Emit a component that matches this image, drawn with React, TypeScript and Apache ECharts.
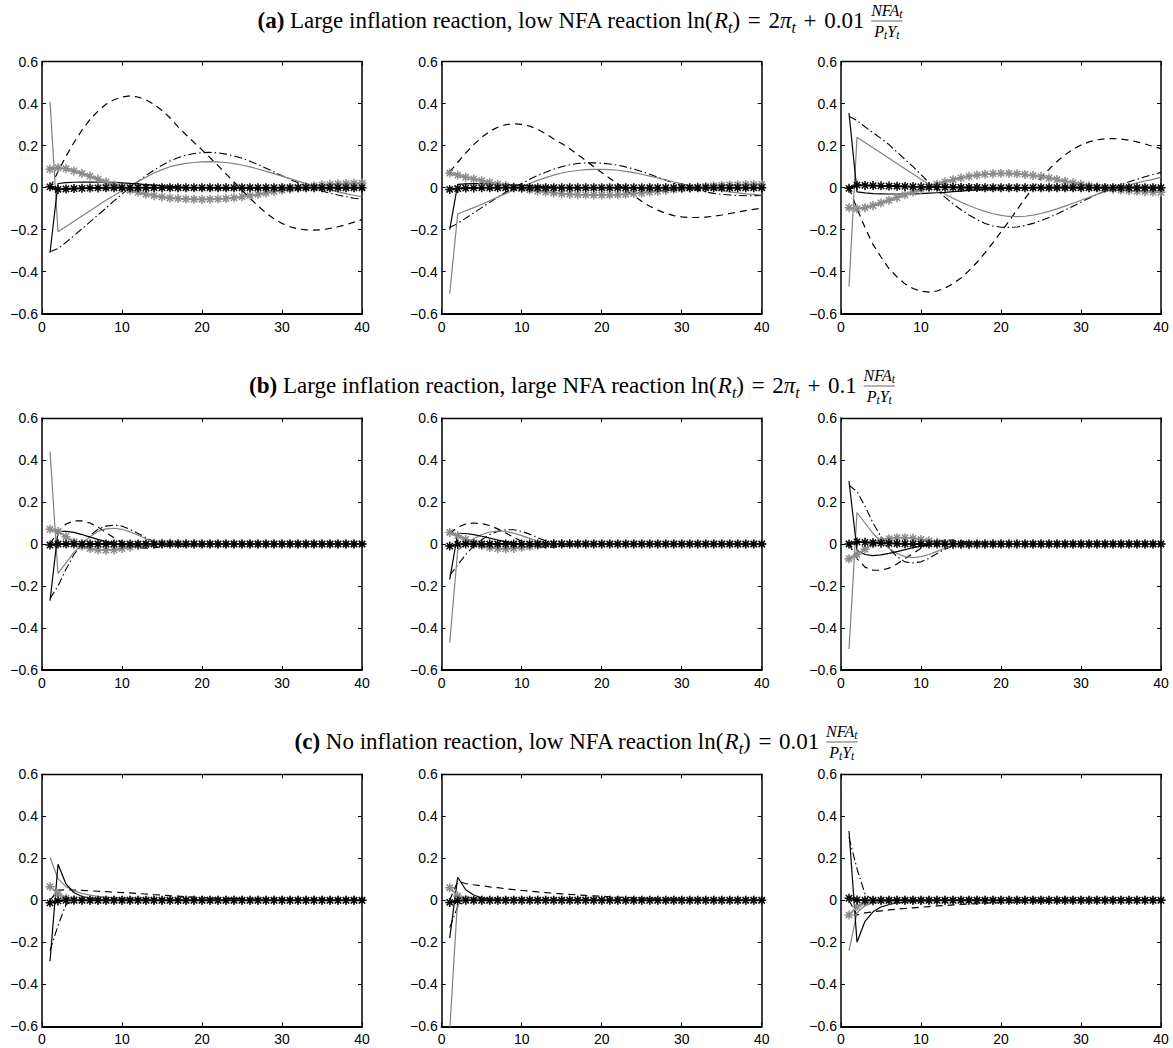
import React, { useEffect, useRef } from "react";
import * as echarts from "echarts";

// ---------------- axes ----------------
const xTicks = [0, 10, 20, 30, 40];
const yTicks = [-0.6, -0.4, -0.2, 0, 0.2, 0.4, 0.6];

// ---------------- panel (a) ----------------
const a1_bs = [-0.31,0.02,0.024,0.026,0.027,0.027,0.027,0.026,0.025,0.023,0.021,0.018,0.015,0.012,0.009,0.006,0.004,0.002,0.001,0,-0.001,-0.001,-0.002,-0.002,-0.002,-0.002,-0.002,-0.001,-0.001,-0.001,0,0,0,0,0,0,0,0,0,0];
const a1_gs = [0.41,-0.21,-0.185,-0.16,-0.135,-0.11,-0.085,-0.06,-0.037,-0.015,0.008,0.03,0.05,0.07,0.086,0.1,0.109,0.116,0.12,0.123,0.124,0.123,0.12,0.115,0.108,0.099,0.089,0.078,0.067,0.055,0.043,0.031,0.02,0.009,-0.001,-0.011,-0.02,-0.028,-0.036,-0.043];
const a1_dd = [-0.305,-0.29,-0.26,-0.228,-0.196,-0.163,-0.13,-0.097,-0.063,-0.03,0.0,0.03,0.058,0.084,0.107,0.127,0.143,0.155,0.163,0.167,0.168,0.166,0.16,0.151,0.14,0.126,0.11,0.093,0.075,0.057,0.04,0.024,0.009,-0.004,-0.016,-0.026,-0.035,-0.043,-0.05,-0.055];
const a1_da = [0.0,0.076,0.15,0.215,0.275,0.325,0.365,0.397,0.419,0.432,0.437,0.432,0.418,0.397,0.368,0.333,0.29,0.252,0.216,0.18,0.143,0.105,0.066,0.027,-0.012,-0.05,-0.087,-0.12,-0.148,-0.17,-0.186,-0.196,-0.201,-0.202,-0.2,-0.194,-0.186,-0.176,-0.164,-0.152];
const a1_gst = [0.088,0.095,0.09,0.08,0.068,0.055,0.041,0.027,0.013,0.0,-0.012,-0.022,-0.031,-0.038,-0.044,-0.049,-0.052,-0.054,-0.055,-0.056,-0.055,-0.054,-0.052,-0.048,-0.043,-0.038,-0.032,-0.025,-0.018,-0.012,-0.006,0.0,0.005,0.009,0.013,0.016,0.018,0.02,0.021,0.022];
const a1_bst = [0.004,-0.008,-0.006,-0.004,-0.003,-0.002,-0.001,0,0,0,0,0,0,0,0,0,0,0,0,0,0,0,0,0,0,0,0,0,0,0,0,0,0,0,0,0,0,0,0,0];

const a2_bs = [-0.2,0.016,0.018,0.019,0.019,0.018,0.017,0.015,0.013,0.011,0.009,0.007,0.005,0.003,0.002,0.001,0,0,0,0,0,0,0,0,0,0,0,0,0,0,0,0,0,0,0,0,0,0,0,0];
const a2_gs = [-0.505,-0.125,-0.11,-0.095,-0.079,-0.062,-0.045,-0.028,-0.011,0.005,0.02,0.035,0.048,0.06,0.07,0.077,0.082,0.086,0.087,0.087,0.086,0.083,0.078,0.072,0.064,0.055,0.046,0.036,0.027,0.018,0.01,0.004,-0.002,-0.008,-0.014,-0.02,-0.025,-0.029,-0.032,-0.035];
const a2_dd = [-0.19,-0.17,-0.145,-0.12,-0.095,-0.07,-0.045,-0.022,0.0,0.02,0.04,0.058,0.074,0.088,0.1,0.109,0.115,0.118,0.119,0.117,0.113,0.107,0.099,0.089,0.077,0.064,0.05,0.036,0.022,0.01,-0.002,-0.012,-0.02,-0.027,-0.032,-0.035,-0.037,-0.038,-0.038,-0.037];
const a2_da = [0.075,0.12,0.165,0.205,0.24,0.268,0.288,0.3,0.304,0.302,0.293,0.278,0.257,0.232,0.21,0.185,0.158,0.13,0.1,0.072,0.045,0.018,-0.01,-0.038,-0.065,-0.088,-0.107,-0.122,-0.133,-0.139,-0.142,-0.142,-0.14,-0.136,-0.13,-0.123,-0.116,-0.109,-0.103,-0.098];
const a2_gst = [0.07,0.06,0.05,0.042,0.033,0.025,0.017,0.01,0.003,-0.004,-0.01,-0.016,-0.021,-0.025,-0.029,-0.031,-0.033,-0.034,-0.035,-0.035,-0.034,-0.033,-0.031,-0.028,-0.025,-0.021,-0.017,-0.013,-0.009,-0.005,-0.001,0.003,0.006,0.009,0.011,0.013,0.014,0.015,0.016,0.016];
const a2_bst = [-0.008,-0.004,-0.002,-0.001,0,0,0,0,0,0,0,0,0,0,0,0,0,0,0,0,0,0,0,0,0,0,0,0,0,0,0,0,0,0,0,0,0,0,0,0];

const a3_bs = [0.355,-0.02,-0.025,-0.028,-0.029,-0.03,-0.03,-0.03,-0.029,-0.028,-0.026,-0.024,-0.022,-0.019,-0.016,-0.013,-0.01,-0.008,-0.006,-0.004,-0.002,-0.001,0,0.001,0.002,0.002,0.003,0.003,0.003,0.003,0.003,0.003,0.003,0.003,0.003,0.003,0.003,0.003,0.003,0.003];
const a3_gs = [-0.471,0.24,0.215,0.19,0.165,0.14,0.115,0.09,0.065,0.04,0.015,-0.008,-0.03,-0.05,-0.068,-0.085,-0.1,-0.113,-0.124,-0.132,-0.137,-0.138,-0.136,-0.131,-0.123,-0.113,-0.101,-0.088,-0.074,-0.06,-0.046,-0.032,-0.019,-0.007,0.004,0.014,0.023,0.032,0.04,0.05];
const a3_dd = [0.34,0.32,0.29,0.262,0.235,0.205,0.17,0.135,0.1,0.062,0.025,-0.01,-0.045,-0.077,-0.105,-0.13,-0.152,-0.17,-0.182,-0.188,-0.189,-0.187,-0.18,-0.17,-0.157,-0.142,-0.125,-0.107,-0.088,-0.069,-0.05,-0.032,-0.015,0.0,0.015,0.028,0.04,0.052,0.063,0.073];
const a3_da = [0.0,-0.1,-0.19,-0.27,-0.33,-0.385,-0.425,-0.458,-0.48,-0.493,-0.497,-0.492,-0.478,-0.457,-0.43,-0.395,-0.355,-0.31,-0.262,-0.21,-0.16,-0.105,-0.052,0.0,0.045,0.087,0.125,0.157,0.183,0.203,0.218,0.228,0.233,0.234,0.232,0.226,0.218,0.208,0.197,0.186];
const a3_gst = [-0.095,-0.1,-0.095,-0.085,-0.073,-0.06,-0.047,-0.034,-0.021,-0.008,0.005,0.017,0.028,0.038,0.047,0.054,0.06,0.064,0.067,0.068,0.068,0.066,0.063,0.058,0.053,0.046,0.039,0.031,0.023,0.016,0.009,0.003,-0.002,-0.007,-0.011,-0.014,-0.017,-0.019,-0.021,-0.022];
const a3_bst = [-0.003,0.012,0.011,0.01,0.009,0.008,0.007,0.006,0.005,0.004,0.003,0.003,0.002,0.002,0.001,0.001,0.001,0,0,0,0,0,0,0,0,0,0,0,0,0,0,0,0,0,0,0,0,0,0,0];

// ---------------- panel (b) ----------------
const b1_bs = [-0.27,0.06,0.06,0.055,0.045,0.033,0.022,0.012,0.004,-0.002,-0.005,-0.006,-0.005,-0.003,-0.001,0,0,0,0,0,0,0,0,0,0,0,0,0,0,0,0,0,0,0,0,0,0,0,0,0];
const b1_gs = [0.44,-0.14,-0.09,-0.04,0.0,0.035,0.06,0.072,0.075,0.07,0.058,0.042,0.025,0.01,0.0,-0.006,-0.008,-0.008,-0.006,-0.004,-0.002,-0.001,0,0,0,0,0,0,0,0,0,0,0,0,0,0,0,0,0,0];
const b1_dd = [-0.26,-0.2,-0.12,-0.05,0.0,0.04,0.07,0.085,0.09,0.085,0.07,0.05,0.03,0.012,0.0,-0.008,-0.01,-0.009,-0.006,-0.003,-0.001,0,0,0,0,0,0,0,0,0,0,0,0,0,0,0,0,0,0,0];
const b1_da = [0.0,0.06,0.095,0.11,0.11,0.1,0.08,0.055,0.03,0.008,-0.008,-0.018,-0.02,-0.018,-0.013,-0.008,-0.004,-0.001,0,0,0,0,0,0,0,0,0,0,0,0,0,0,0,0,0,0,0,0,0,0];
const b1_gst = [0.07,0.06,0.035,0.01,-0.01,-0.022,-0.028,-0.03,-0.028,-0.022,-0.015,-0.008,-0.002,0.002,0.004,0.004,0.003,0.002,0.001,0,0,0,0,0,0,0,0,0,0,0,0,0,0,0,0,0,0,0,0,0];
const b1_bst = [-0.005,0,0,0,0,0,0,0,0,0,0,0,0,0,0,0,0,0,0,0,0,0,0,0,0,0,0,0,0,0,0,0,0,0,0,0,0,0,0,0];

const b2_bs = [-0.17,0.05,0.05,0.045,0.037,0.028,0.019,0.011,0.005,0.0,-0.003,-0.004,-0.004,-0.003,-0.002,-0.001,0,0,0,0,0,0,0,0,0,0,0,0,0,0,0,0,0,0,0,0,0,0,0,0];
const b2_gs = [-0.47,-0.03,0.0,0.025,0.045,0.057,0.062,0.06,0.052,0.04,0.027,0.014,0.004,-0.003,-0.006,-0.006,-0.005,-0.003,-0.002,-0.001,0,0,0,0,0,0,0,0,0,0,0,0,0,0,0,0,0,0,0,0];
const b2_dd = [-0.15,-0.1,-0.05,-0.01,0.02,0.045,0.06,0.068,0.068,0.06,0.047,0.03,0.015,0.003,-0.004,-0.007,-0.007,-0.005,-0.003,-0.001,0,0,0,0,0,0,0,0,0,0,0,0,0,0,0,0,0,0,0,0];
const b2_da = [0.05,0.08,0.095,0.1,0.097,0.088,0.072,0.052,0.032,0.013,-0.002,-0.012,-0.016,-0.015,-0.011,-0.007,-0.004,-0.002,-0.001,0,0,0,0,0,0,0,0,0,0,0,0,0,0,0,0,0,0,0,0,0];
const b2_gst = [0.055,0.04,0.022,0.005,-0.008,-0.017,-0.022,-0.023,-0.021,-0.016,-0.011,-0.006,-0.002,0.001,0.002,0.002,0.001,0,0,0,0,0,0,0,0,0,0,0,0,0,0,0,0,0,0,0,0,0,0,0];
const b2_bst = [-0.01,-0.002,0,0,0,0,0,0,0,0,0,0,0,0,0,0,0,0,0,0,0,0,0,0,0,0,0,0,0,0,0,0,0,0,0,0,0,0,0,0];

const b3_bs = [0.3,-0.03,-0.05,-0.055,-0.052,-0.045,-0.036,-0.027,-0.018,-0.01,-0.004,0.0,0.002,0.003,0.003,0.002,0.001,0,0,0,0,0,0,0,0,0,0,0,0,0,0,0,0,0,0,0,0,0,0,0];
const b3_gs = [-0.5,0.15,0.1,0.05,0.01,-0.02,-0.045,-0.06,-0.065,-0.06,-0.05,-0.035,-0.02,-0.008,0.0,0.005,0.006,0.005,0.003,0.001,0,0,0,0,0,0,0,0,0,0,0,0,0,0,0,0,0,0,0,0];
const b3_dd = [0.28,0.25,0.18,0.1,0.035,-0.02,-0.06,-0.085,-0.09,-0.085,-0.068,-0.045,-0.025,-0.008,0.004,0.009,0.009,0.007,0.004,0.002,0,0,0,0,0,0,0,0,0,0,0,0,0,0,0,0,0,0,0,0];
const b3_da = [0.0,-0.07,-0.11,-0.125,-0.125,-0.115,-0.095,-0.07,-0.045,-0.02,0.0,0.012,0.018,0.018,0.014,0.009,0.005,0.002,0,0,0,0,0,0,0,0,0,0,0,0,0,0,0,0,0,0,0,0,0,0];
const b3_gst = [-0.07,-0.05,-0.025,0.0,0.015,0.025,0.03,0.03,0.027,0.022,0.015,0.008,0.002,-0.002,-0.003,-0.003,-0.002,-0.001,0,0,0,0,0,0,0,0,0,0,0,0,0,0,0,0,0,0,0,0,0,0];
const b3_bst = [0.0,0.01,0.008,0.006,0.004,0.003,0.002,0.001,0,0,0,0,0,0,0,0,0,0,0,0,0,0,0,0,0,0,0,0,0,0,0,0,0,0,0,0,0,0,0,0];

// ---------------- panel (c) ----------------
const c1_bs = [-0.29,0.172,0.078,0.036,0.018,0.01,0.005,0.003,0.002,0.001,0,0,0,0,0,0,0,0,0,0,0,0,0,0,0,0,0,0,0,0,0,0,0,0,0,0,0,0,0,0];
const c1_gs = [0.205,0.103,0.065,0.045,0.033,0.025,0.019,0.015,0.012,0.01,0.008,0.007,0.006,0.005,0.004,0.004,0.003,0.003,0.002,0.002,0.002,0.001,0.001,0.001,0.001,0.001,0,0,0,0,0,0,0,0,0,0,0,0,0,0];
const c1_dd = [-0.24,-0.12,-0.02,0.0,0.002,0.001,0,0,0,0,0,0,0,0,0,0,0,0,0,0,0,0,0,0,0,0,0,0,0,0,0,0,0,0,0,0,0,0,0,0];
const c1_da = [0.0,0.048,0.05,0.049,0.047,0.045,0.043,0.041,0.039,0.037,0.035,0.032,0.03,0.027,0.025,0.022,0.02,0.017,0.015,0.013,0.011,0.01,0.009,0.008,0.007,0.006,0.005,0.004,0.004,0.003,0.003,0.002,0.002,0.002,0.001,0.001,0.001,0.001,0.001,0.001];
const c1_gst = [0.065,0.03,0.01,0.003,0.001,0,0,0,0,0,0,0,0,0,0,0,0,0,0,0,0,0,0,0,0,0,0,0,0,0,0,0,0,0,0,0,0,0,0,0];
const c1_bst = [-0.012,-0.003,0,0,0,0,0,0,0,0,0,0,0,0,0,0,0,0,0,0,0,0,0,0,0,0,0,0,0,0,0,0,0,0,0,0,0,0,0,0];

const c2_bs = [-0.18,0.11,0.05,0.025,0.012,0.006,0.003,0.001,0,0,0,0,0,0,0,0,0,0,0,0,0,0,0,0,0,0,0,0,0,0,0,0,0,0,0,0,0,0,0,0];
const c2_gs = [-0.62,0.01,0.015,0.012,0.009,0.007,0.005,0.004,0.003,0.002,0.002,0.001,0.001,0,0,0,0,0,0,0,0,0,0,0,0,0,0,0,0,0,0,0,0,0,0,0,0,0,0,0];
const c2_dd = [-0.13,-0.03,0.0,0,0,0,0,0,0,0,0,0,0,0,0,0,0,0,0,0,0,0,0,0,0,0,0,0,0,0,0,0,0,0,0,0,0,0,0,0];
const c2_da = [0.0,0.09,0.08,0.074,0.069,0.064,0.06,0.055,0.051,0.047,0.044,0.04,0.037,0.034,0.031,0.028,0.026,0.023,0.021,0.019,0.017,0.015,0.014,0.012,0.011,0.01,0.009,0.008,0.007,0.006,0.005,0.005,0.004,0.004,0.003,0.003,0.002,0.002,0.002,0.002];
const c2_gst = [0.06,0.02,0.005,0.001,0,0,0,0,0,0,0,0,0,0,0,0,0,0,0,0,0,0,0,0,0,0,0,0,0,0,0,0,0,0,0,0,0,0,0,0];
const c2_bst = [-0.01,-0.002,0,0,0,0,0,0,0,0,0,0,0,0,0,0,0,0,0,0,0,0,0,0,0,0,0,0,0,0,0,0,0,0,0,0,0,0,0,0];

const c3_bs = [0.33,-0.2,-0.1,-0.055,-0.032,-0.02,-0.013,-0.008,-0.005,-0.003,-0.002,-0.001,0,0,0,0,0,0,0,0,0,0,0,0,0,0,0,0,0,0,0,0,0,0,0,0,0,0,0,0];
const c3_gs = [-0.24,-0.06,-0.025,-0.012,-0.006,-0.003,-0.001,0,0,0,0,0,0,0,0,0,0,0,0,0,0,0,0,0,0,0,0,0,0,0,0,0,0,0,0,0,0,0,0,0];
const c3_dd = [0.3,0.15,0.03,0.0,0,0,0,0,0,0,0,0,0,0,0,0,0,0,0,0,0,0,0,0,0,0,0,0,0,0,0,0,0,0,0,0,0,0,0,0];
const c3_da = [0.0,-0.07,-0.06,-0.055,-0.05,-0.046,-0.042,-0.039,-0.036,-0.033,-0.03,-0.027,-0.025,-0.022,-0.02,-0.018,-0.016,-0.014,-0.012,-0.011,-0.01,-0.009,-0.008,-0.007,-0.006,-0.005,-0.004,-0.004,-0.003,-0.003,-0.002,-0.002,-0.002,-0.001,-0.001,-0.001,-0.001,-0.001,0,0];
const c3_gst = [-0.07,-0.03,-0.01,-0.003,0,0,0,0,0,0,0,0,0,0,0,0,0,0,0,0,0,0,0,0,0,0,0,0,0,0,0,0,0,0,0,0,0,0,0,0];
const c3_bst = [0.01,0.002,0,0,0,0,0,0,0,0,0,0,0,0,0,0,0,0,0,0,0,0,0,0,0,0,0,0,0,0,0,0,0,0,0,0,0,0,0,0];

const panels = [
  { dashed: a1_da, dashDot: a1_dd, gray: a1_gs, black: a1_bs, grayStar: a1_gst, blackStar: a1_bst },
  { dashed: a2_da, dashDot: a2_dd, gray: a2_gs, black: a2_bs, grayStar: a2_gst, blackStar: a2_bst },
  { dashed: a3_da, dashDot: a3_dd, gray: a3_gs, black: a3_bs, grayStar: a3_gst, blackStar: a3_bst },
  { dashed: b1_da, dashDot: b1_dd, gray: b1_gs, black: b1_bs, grayStar: b1_gst, blackStar: b1_bst },
  { dashed: b2_da, dashDot: b2_dd, gray: b2_gs, black: b2_bs, grayStar: b2_gst, blackStar: b2_bst },
  { dashed: b3_da, dashDot: b3_dd, gray: b3_gs, black: b3_bs, grayStar: b3_gst, blackStar: b3_bst },
  { dashed: c1_da, dashDot: c1_dd, gray: c1_gs, black: c1_bs, grayStar: c1_gst, blackStar: c1_bst },
  { dashed: c2_da, dashDot: c2_dd, gray: c2_gs, black: c2_bs, grayStar: c2_gst, blackStar: c2_bst },
  { dashed: c3_da, dashDot: c3_dd, gray: c3_gs, black: c3_bs, grayStar: c3_gst, blackStar: c3_bst },
];

// Title pieces: [text, style]
type Piece = [string, string];
const SP = "\u2004"; // math-like spacing around relations
const titleA: Piece[] = [["(a)", "b"], [" Large inflation reaction, low NFA reaction ln(", "n"], ["R", "i"], ["t", "si"], [")", "n"], [SP + "=" + SP + "2", "n"], ["π", "i"], ["t", "si"], [SP + "+" + SP + "0.01 ", "n"]];
const titleB: Piece[] = [["(b)", "b"], [" Large inflation reaction, large NFA reaction ln(", "n"], ["R", "i"], ["t", "si"], [")", "n"], [SP + "=" + SP + "2", "n"], ["π", "i"], ["t", "si"], [SP + "+" + SP + "0.1 ", "n"]];
const titleC: Piece[] = [["(c)", "b"], [" No inflation reaction, low NFA reaction ln(", "n"], ["R", "i"], ["t", "si"], [")", "n"], [SP + "=" + SP + "0.01 ", "n"]];
const fracNum: Piece[] = [["NFA", "fi"], ["t", "fsi"]];
const fracDen: Piece[] = [["P", "fi"], ["t", "fsi"], ["Y", "fi"], ["t", "fsi"]];

// ---------------- layout ----------------
const COL_LEFT = [42, 441.7, 841];
const ROW_TOP = [61.7, 418, 774.3];
const PW = 320;
const PH = 252;
const TITLE_CX = [580, 572, 576];
const TITLE_Y = [20, 385, 741];

const SERIF = '"Liberation Serif", "Times New Roman", serif';
const SANS = '"Liberation Sans", Arial, Helvetica, sans-serif';

const pieceFont: Record<string, { size: number; style: string; weight: string; dy: number }> = {
  n: { size: 23, style: "normal", weight: "normal", dy: 0 },
  b: { size: 23, style: "normal", weight: "bold", dy: 0 },
  i: { size: 23, style: "italic", weight: "normal", dy: 0 },
  si: { size: 16, style: "italic", weight: "normal", dy: 7 },
  fi: { size: 16, style: "italic", weight: "normal", dy: 0 },
  fsi: { size: 11.5, style: "italic", weight: "normal", dy: 4 },
};

let measureCtx: CanvasRenderingContext2D | null = null;
function measure(text: string, key: string) {
  if (!measureCtx) measureCtx = document.createElement("canvas").getContext("2d");
  const f = pieceFont[key];
  measureCtx!.font = `${f.style} ${f.weight} ${f.size}px ${SERIF}`;
  return measureCtx!.measureText(text).width;
}

function layoutPieces(pieces: Piece[], x0: number, y: number) {
  const els: any[] = [];
  let x = x0;
  for (const [text, key] of pieces) {
    const f = pieceFont[key];
    els.push({
      type: "text",
      x,
      y: y + f.dy,
      style: {
        text,
        fill: "#000",
        fontFamily: SERIF,
        fontSize: f.size,
        fontStyle: f.style,
        fontWeight: f.weight,
        textAlign: "left",
        align: "left",
        textVerticalAlign: "middle",
        verticalAlign: "middle",
      },
    });
    x += measure(text, key);
  }
  return { els, width: x - x0 };
}

function piecesWidth(pieces: Piece[]) {
  return pieces.reduce((s, [t, k]) => s + measure(t, k), 0);
}

function buildTitle(pieces: Piece[], cx: number, y: number) {
  const wn = piecesWidth(fracNum);
  const wd = piecesWidth(fracDen);
  const w = Math.max(wn, wd);
  const total = piecesWidth(pieces) + 1 + w;
  const x0 = cx - total / 2;
  const main = layoutPieces(pieces, x0, y);
  const fx = x0 + main.width + 1;
  const num = layoutPieces(fracNum, fx + (w - wn) / 2, y - 10);
  const den = layoutPieces(fracDen, fx + (w - wd) / 2, y + 11);
  return [
    ...main.els,
    ...num.els,
    ...den.els,
    { type: "line", shape: { x1: fx, y1: y + 1, x2: fx + w, y2: y + 1 }, style: { stroke: "#000", lineWidth: 0.6 } },
  ];
}

const ASTERISK = "path://M5,0L5,10M0,5L10,5M1.5,1.5L8.5,8.5M1.5,8.5L8.5,1.5";

function fmtY(v: number) {
  if (Math.abs(v) < 1e-9) return "0";
  return (v < 0 ? "\u2212" : "") + Math.abs(v).toFixed(1);
}

function buildOption() {
  const grid: any[] = [];
  const xAxis: any[] = [];
  const yAxis: any[] = [];
  const series: any[] = [];
  panels.forEach((p, g) => {
    const r = Math.floor(g / 3);
    const c = g % 3;
    grid.push({ left: COL_LEFT[c], top: ROW_TOP[r], width: PW, height: PH, show: false });
    const tickInside = { show: true, inside: true, length: 4, lineStyle: { color: "#000", width: 1 } };
    xAxis.push({
      type: "value", gridIndex: g, min: xTicks[0], max: xTicks[xTicks.length - 1], interval: 10,
      position: "bottom",
      axisLine: { show: true, onZero: false, lineStyle: { color: "#000", width: 2 } },
      axisTick: tickInside,
      axisLabel: { show: true, color: "#000", fontFamily: SANS, fontSize: 14, margin: 6 },
      splitLine: { show: false },
    });
    xAxis.push({
      type: "value", gridIndex: g, min: xTicks[0], max: xTicks[xTicks.length - 1], interval: 10,
      position: "top",
      axisLine: { show: true, onZero: false, lineStyle: { color: "#000", width: 1.3 } },
      axisTick: tickInside,
      axisLabel: { show: false },
      splitLine: { show: false },
    });
    yAxis.push({
      type: "value", gridIndex: g, min: yTicks[0], max: yTicks[yTicks.length - 1], interval: 0.2,
      position: "left",
      axisLine: { show: true, onZero: false, lineStyle: { color: "#000", width: 1.5 } },
      axisTick: tickInside,
      axisLabel: { show: true, color: "#000", fontFamily: SANS, fontSize: 14, margin: 4, formatter: fmtY },
      splitLine: { show: false },
    });
    yAxis.push({
      type: "value", gridIndex: g, min: yTicks[0], max: yTicks[yTicks.length - 1], interval: 0.2,
      position: "right",
      axisLine: { show: true, onZero: false, lineStyle: { color: "#000", width: 1.5 } },
      axisTick: tickInside,
      axisLabel: { show: false },
      splitLine: { show: false },
    });
    const toData = (arr: number[]) => arr.map((v, i) => [i + 1, v]);
    const base = { type: "line", xAxisIndex: 2 * g, yAxisIndex: 2 * g, silent: true, clip: true };
    series.push({ ...base, data: toData(p.dashed), showSymbol: false, lineStyle: { color: "#000", width: 1.2, type: [7, 5] } });
    series.push({ ...base, data: toData(p.dashDot), showSymbol: false, lineStyle: { color: "#000", width: 1.1, type: [8, 3, 1.5, 3] } });
    series.push({ ...base, data: toData(p.gray), showSymbol: false, lineStyle: { color: "#808080", width: 1.2 } });
    series.push({ ...base, data: toData(p.black), showSymbol: false, lineStyle: { color: "#000", width: 1.2 } });
    series.push({
      ...base, data: toData(p.grayStar), showSymbol: true, showAllSymbol: true, symbol: ASTERISK, symbolSize: 9,
      lineStyle: { color: "#8c8c8c", width: 1.8 },
      itemStyle: { color: "#8c8c8c", borderColor: "#8c8c8c", borderWidth: 1.5 },
    });
    series.push({
      ...base, data: toData(p.blackStar), showSymbol: true, showAllSymbol: true, symbol: ASTERISK, symbolSize: 9,
      lineStyle: { color: "#000", width: 1.8 },
      itemStyle: { color: "#000", borderColor: "#000", borderWidth: 1.5 },
    });
  });

  const graphic = [
    ...buildTitle(titleA, TITLE_CX[0], TITLE_Y[0]),
    ...buildTitle(titleB, TITLE_CX[1], TITLE_Y[1]),
    ...buildTitle(titleC, TITLE_CX[2], TITLE_Y[2]),
  ];

  return { animation: false, backgroundColor: "#fff", grid, xAxis, yAxis, series, graphic };
}

export default function App() {
  const ref = useRef<HTMLDivElement>(null);
  useEffect(() => {
    if (!ref.current) return;
    const chart = echarts.init(ref.current, undefined, { renderer: "svg" });
    chart.setOption(buildOption() as any);
    return () => chart.dispose();
  }, []);
  return (
    <div
      ref={ref}
      style={{ position: "absolute", left: 0, top: 0, width: 1173, height: 1048, background: "#fff" }}
    />
  );
}
